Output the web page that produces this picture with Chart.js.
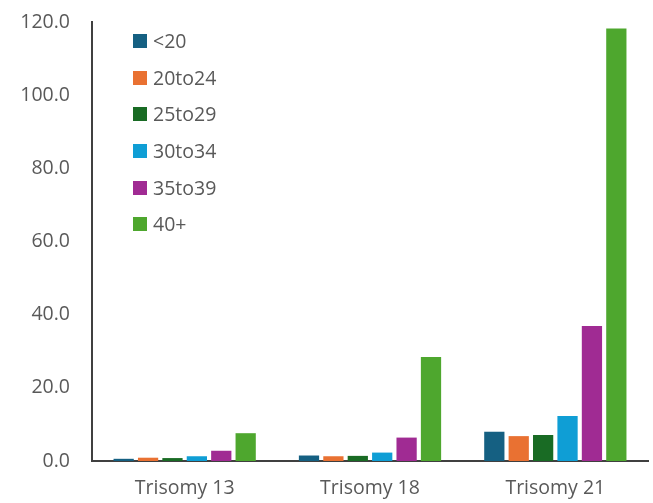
<!DOCTYPE html>
<html>
<head>
<meta charset="utf-8">
<script src="https://cdn.jsdelivr.net/npm/chart.js@4/dist/chart.umd.min.js"></script>
<style>
  html, body { margin: 0; padding: 0; background: #fff; }
  #wrap { position: relative; width: 653px; height: 503px; }
  #legend { position: absolute; left: 133px; top: 27px; font-family: "Open Sans", "Liberation Sans", sans-serif; font-size: 19.5px; color: #595959; }
  #legend div { height: 36.7px; display: flex; align-items: flex-start; line-height: 27px; }
  #legend span.box { display: inline-block; width: 14px; height: 14px; margin: 7px 6px 0 0; }
</style>
</head>
<body>
<div id="wrap">
  <canvas id="chart" width="653" height="503"></canvas>
  <div id="legend"></div>
</div>
<script>
const categories = ['Trisomy 13', 'Trisomy 18', 'Trisomy 21']
const ageGroups = ['<20', '20to24', '25to29', '30to34', '35to39', '40+']
const under20 = [0.6, 1.5, 8.0]
const age20to24 = [0.9, 1.3, 6.8]
const age25to29 = [0.8, 1.4, 7.1]
const age30to34 = [1.3, 2.3, 12.3]
const age35to39 = [2.8, 6.4, 36.9]
const age40plus = [7.6, 28.4, 118.2]
const colors = ['#156082', '#E97132', '#196B24', '#0F9ED5', '#A02B93', '#4EA72E']

let series = [under20, age20to24, age25to29, age30to34, age35to39, age40plus]

let datasets = ageGroups.map((name, i) => {
  return {
    label: name,
    data: series[i],
    backgroundColor: colors[i],
    borderWidth: 0,
    barPercentage: 0.83,
    categoryPercentage: 0.79
  }
})

let font = { family: '"Open Sans", "Liberation Sans", sans-serif', size: 19.5 }

let chart = new Chart(document.getElementById('chart'), {
  type: 'bar',
  data: { labels: categories, datasets: datasets },
  options: {
    responsive: false,
    animation: false,
    layout: { padding: { top: 22, right: 5, left: 0, bottom: 0 } },
    plugins: { legend: { display: false }, tooltip: { enabled: false } },
    scales: {
      x: {
        grid: { display: false, drawTicks: false },
        border: { display: true, color: '#404040', width: 2 },
        ticks: { color: '#595959', font: font, padding: 16 },
        afterFit: (s) => { s.height = 42 }
      },
      y: {
        min: 0,
        max: 120,
        ticks: { stepSize: 20, color: '#595959', font: font, padding: 22, callback: (v) => v.toFixed(1) },
        grid: { display: false, drawTicks: false },
        border: { display: true, color: '#404040', width: 2 },
        afterFit: (s) => { s.width = 92; s.paddingTop = 0; s.paddingBottom = 0 }
      }
    }
  }
})

// legend drawn as html, sits inside the plot area like the original
let legendEl = document.getElementById('legend')
ageGroups.forEach((name, i) => {
  let row = document.createElement('div')
  let box = document.createElement('span')
  box.className = 'box'
  box.style.background = colors[i]
  row.appendChild(box)
  row.appendChild(document.createTextNode(name))
  legendEl.appendChild(row)
})
</script>
</body>
</html>
